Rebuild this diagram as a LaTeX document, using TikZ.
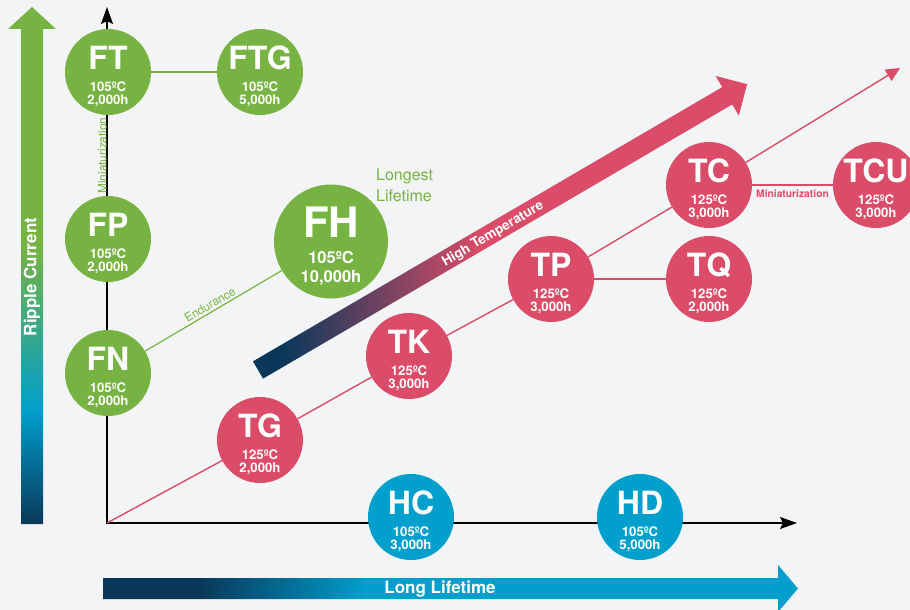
\documentclass[tikz,border=0pt]{standalone}
\usepackage{fontspec}
\setmainfont{TeX Gyre Heros}
\usepackage{xcolor}
\usepackage{tikz}
\usetikzlibrary{arrows.meta, positioning, calc}
\definecolor{paper}{RGB}{243,244,246}
\definecolor{seriesgreen}{RGB}{119,179,66}
\definecolor{seriesred}{RGB}{218,76,103}
\definecolor{seriesblue}{RGB}{0,159,204}
\definecolor{deepnavy}{RGB}{10,56,90}
\pgfdeclareverticalshading{rippleshade}{100bp}{color(0bp)=(deepnavy); color(25bp)=(deepnavy); color(36bp)=(seriesblue); color(52bp)=(seriesgreen); color(100bp)=(seriesgreen)}
\pgfdeclarehorizontalshading{lifeshade}{100bp}{color(0bp)=(deepnavy); color(32bp)=(deepnavy); color(44bp)=(seriesblue); color(100bp)=(seriesblue)}
\pgfdeclarehorizontalshading{tempshade}{100bp}{color(0bp)=(deepnavy); color(28bp)=(deepnavy); color(48bp)=(seriesred); color(100bp)=(seriesred)}
\newcommand{\series}[3]{\rule{0pt}{32.5pt}{\fontsize{32}{32}\selectfont #1}\\[8.5pt]#2\\#3}

\begin{document}
\begin{tikzpicture}[
    x=1pt, y=-1pt,
    capdot/.style={circle, inner sep=-9pt, minimum size=86pt, text=white, align=center, font=\fontsize{13.2}{13}\selectfont\bfseries},
    bigdot/.style={capdot, minimum size=114pt, font=\fontsize{16.5}{19}\selectfont\bfseries},
    axisline/.style={line width=1.5pt, {Stealth[length=17pt,width=12pt,inset=3pt]}-{Stealth[length=17pt,width=12pt,inset=3pt]}},
    greenlink/.style={seriesgreen, line width=1.2pt},
    redlink/.style={seriesred, line width=1.4pt},
    linklabel/.style={font=\fontsize{11.8}{11.8}\selectfont, inner sep=2pt},
    bandtext/.style={text=white, font=\fontsize{17}{17}\selectfont\bfseries}
]
    % backdrop
    \fill[paper] (0,0) rectangle (910,610);
    \clip (0,0) rectangle (910,610);

    % axes
    \coordinate (axisorigin) at (107,523);
    \coordinate (ytip) at (107,7);
    \coordinate (xtip) at (797,523);
    \draw[axisline] (ytip) -- (axisorigin) -- (xtip);

    % gradient bands
    \shade[shading=rippleshade] (21,524) -- (21,29) -- (8,29) -- (32,7) -- (56,29) -- (43,29) -- (43,524) -- cycle;
    \node[bandtext, rotate=90] (ripple) at (32,277) {Ripple Current};

    \shade[shading=lifeshade] (103,578) -- (778,578) -- (778,565) -- (798,588.5) -- (778,612) -- (778,599) -- (103,599) -- cycle;
    \node[bandtext] (lifetime) at (440,589) {Long Lifetime};

    \begin{scope}[shift={(258,370)}, rotate=30.3]
        \shade[shading=tempshade] (0,-10) -- (543.5,-10) -- (543.5,-23) -- (566.5,0) -- (543.5,23) -- (543.5,10) -- (0,10) -- cycle;
    \end{scope}
    \node[text=white, font=\fontsize{13.5}{13.5}\selectfont\bfseries, rotate=30.3] (hot) at (493,234) {High Temperature};

    % 105 C series
    \node[capdot, fill=seriesgreen] (FT) at (108,72) {\series{FT}{105ºC}{2,000h}};
    \node[capdot, fill=seriesgreen] (FTG) at (260,72) {\series{FTG}{105ºC}{5,000h}};
    \node[capdot, fill=seriesgreen] (FP) at (108,239) {\series{FP}{105ºC}{2,000h}};
    \node[capdot, fill=seriesgreen] (FN) at (108,373) {\series{FN}{105ºC}{2,000h}};
    \node[bigdot, fill=seriesgreen] (FH) at (331,241.5) {\rule{0pt}{40.4pt}{\fontsize{42}{42}\selectfont FH}\\[7pt]105ºC\\10,000h};
    \node[anchor=north west, inner sep=0pt, align=left, text=seriesgreen, font=\fontsize{16}{21}\selectfont] (longest) at (376,169) {Longest\\Lifetime};

    \node[capdot, fill=seriesblue] (HC) at (411,517) {\series{HC}{105ºC}{3,000h}};
    \node[capdot, fill=seriesblue] (HD) at (640,517) {\series{HD}{105ºC}{5,000h}};

    % 125 C series
    \node[capdot, fill=seriesred] (TG) at (260,440) {\series{TG}{125ºC}{2,000h}};
    \node[capdot, fill=seriesred] (TK) at (409,356) {\series{TK}{125ºC}{3,000h}};
    \node[capdot, fill=seriesred] (TP) at (551,279) {\series{TP}{125ºC}{3,000h}};
    \node[capdot, fill=seriesred] (TQ) at (709,279) {\series{TQ}{125ºC}{2,000h}};
    \node[capdot, fill=seriesred] (TC) at (709,185) {\series{TC}{125ºC}{3,000h}};
    \node[capdot, fill=seriesred] (TCU) at (876,185) {\series{TCU}{125ºC}{3,000h}};
    \coordinate (tempend) at (900,68);

    % links
    \draw[greenlink] (FT) -- (FTG);
    \path (FT) -- node[midway, rotate=90, above, linklabel, inner sep=1pt, text=seriesgreen] {Miniaturization} (FP);
    \draw[greenlink] (FN) -- node[sloped, above, linklabel, text=seriesgreen] {Endurance} (FH);

    \draw[redlink] (axisorigin) -- (TG);
    \draw[redlink] (TG) -- (TK);
    \draw[redlink] (TK) -- (TP);
    \draw[redlink] (TP) -- (TC);
    \draw[redlink] (TP) -- (TQ);
    \draw[redlink] (TC) -- node[below=2pt, linklabel, font=\fontsize{10.3}{10.3}\selectfont\bfseries, text=seriesred] {Miniaturization} (TCU);
    \draw[redlink, -{Triangle[length=14pt,width=13pt]}] (TC) -- (tempend);
\end{tikzpicture}
\end{document}
